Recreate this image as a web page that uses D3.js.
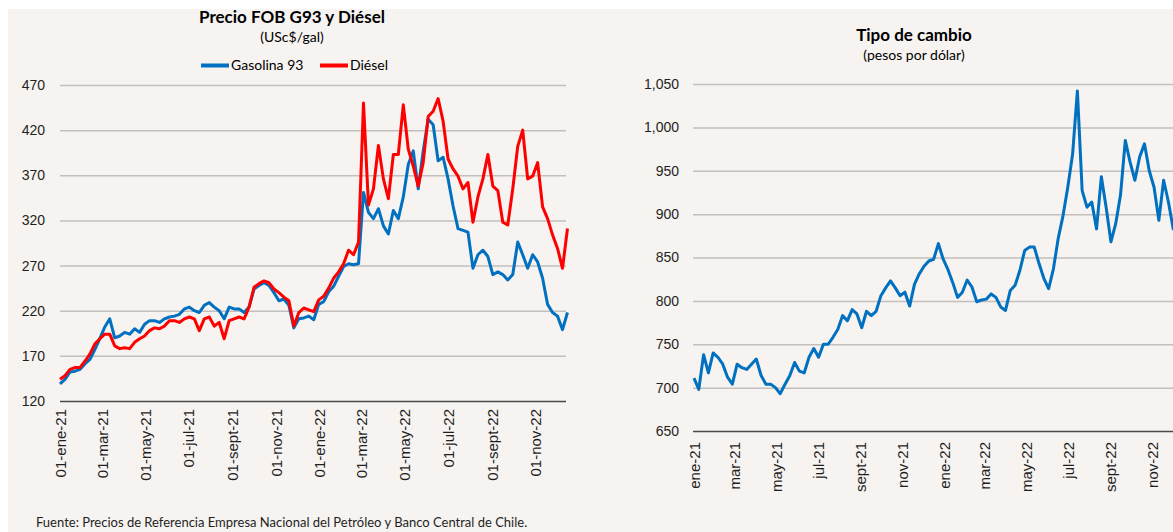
<!DOCTYPE html>
<html>
<head>
<meta charset="utf-8">
<title>Precio FOB G93 y Diésel / Tipo de cambio</title>
<script src="https://cdn.jsdelivr.net/npm/d3@7"></script>
<style>
  body { margin: 0; background: #fff; }
  svg { display: block; font-family: Lato, "Open Sans", sans-serif; }
  .tick text { fill: #1f1f1f; }
</style>
</head>
<body>
<script>
// datos semanales, semana 0 = 01-ene-2021
var inicio = new Date(2021, 0, 1);

var gasolina93 = [139,144,152,153,155,161,166,177,189,202,
  211,190,192,196,194,200,196,205,209,209,
  207,211,213,214,216,222,224,220,218,226,
  229,224,220,211,224,222,222,218,224,244,
  248,251,248,240,231,233,226,201,211,212,
  214,210,227,230,241,247,258,269,272,271,
  272,351,329,322,333,314,305,331,322,346,
  382,397,355,397,432,426,386,390,366,336,
  311,309,307,267,282,287,280,260,263,260,
  254,260,296,282,267,282,274,256,227,218,
  214,199,218];

var diesel = [144,148,155,157,157,164,172,183,189,194,
  194,181,178,179,178,185,189,192,198,201,
  200,203,209,209,207,211,213,211,198,211,
  213,203,207,189,209,211,213,211,224,246,
  250,253,251,244,240,235,231,203,218,223,
  221,219,232,236,245,256,263,272,287,282,
  296,450,337,355,403,366,344,393,393,448,
  399,380,358,384,435,441,455,430,388,377,
  369,355,362,318,346,366,393,358,353,318,
  315,355,402,420,366,369,384,335,322,304,
  289,267,311];

var tipoCambio = [711,698,738,717,740,735,727,712,704,727,
  723,721,727,733,714,704,704,700,693,704,
  714,729,719,717,735,745,735,750,750,758,
  767,783,777,790,785,769,788,783,788,806,
  815,823,815,806,810,794,819,831,840,846,
  848,866,848,836,821,804,810,824,816,799,
  801,802,808,804,793,789,812,818,835,858,
  862,862,843,826,814,837,872,898,931,969,
  1042,927,908,914,883,943,908,868,889,922,
  985,960,939,966,981,950,931,893,939,914,
  883,880];

var fechasTicks = ["2021-01-01","2021-03-01","2021-05-01","2021-07-01","2021-09-01","2021-11-01",
  "2022-01-01","2022-03-01","2022-05-01","2022-07-01","2022-09-01","2022-11-01"];
var etiquetasIzq = ["01-ene-21","01-mar-21","01-may-21","01-jul-21","01-sept-21","01-nov-21",
  "01-ene-22","01-mar-22","01-may-22","01-jul-22","01-sept-22","01-nov-22"];
var etiquetasDer = ["ene-21","mar-21","may-21","jul-21","sept-21","nov-21",
  "ene-22","mar-22","may-22","jul-22","sept-22","nov-22"];
var ticksPrecio = [120,170,220,270,320,370,420,470];
var ticksCambio = [650,700,750,800,850,900,950,1000,1050];

var W = 1173, H = 532;
var parseF = d3.timeParse("%Y-%m-%d");
var semana = function (i) { return d3.timeDay.offset(inicio, 7 * i); };

var svg = d3.select("body").append("svg")
    .attr("width", W)
    .attr("height", H);

svg.append("rect")
    .attr("x", 8).attr("y", 9)
    .attr("width", W - 8).attr("height", H - 9)
    .attr("fill", "#f6f3f0");

function panel(cfg) {
    var x = d3.scaleTime()
        .domain([parseF("2021-01-01"), parseF("2022-11-01")])
        .range([cfg.x0, cfg.xNov]);
    var y = d3.scaleLinear()
        .domain(cfg.yDom)
        .range([cfg.yBase, cfg.yTop]);

    // grilla + etiquetas eje y
    var gy = svg.append("g")
        .attr("transform", "translate(" + cfg.gridL + ",0)")
        .call(d3.axisLeft(y)
            .tickValues(cfg.yTicks)
            .tickSize(-(cfg.gridR - cfg.gridL))
            .tickPadding(cfg.pad)
            .tickFormat(cfg.fmt));
    gy.select(".domain").remove();
    gy.selectAll(".tick line")
        .attr("stroke", function (d) { return d === cfg.yDom[0] ? "#4a4a4a" : "#c2bfbc"; })
        .attr("stroke-width", function (d) { return d === cfg.yDom[0] ? 1.6 : 1.5; });
    gy.selectAll(".tick text")
        .attr("font-size", 14);

    // eje x con etiquetas verticales
    var gx = svg.append("g")
        .attr("transform", "translate(0," + cfg.yBase + ")")
        .call(d3.axisBottom(x)
            .tickValues(fechasTicks.map(parseF))
            .tickSize(0)
            .tickFormat(function (d, i) { return cfg.labels[i]; }));
    gx.select(".domain").remove();
    gx.selectAll(".tick text")
        .attr("font-size", 15)
        .attr("transform", "rotate(-90)")
        .attr("text-anchor", "end")
        .attr("x", cfg.lblGap)
        .attr("y", 0)
        .attr("dy", "0.35em");

    var line = d3.line()
        .x(function (d, i) { return x(semana(i)); })
        .y(function (d) { return y(d); });

    cfg.series.forEach(function (s) {
        svg.append("path")
            .datum(s.data)
            .attr("fill", "none")
            .attr("stroke", s.color)
            .attr("stroke-width", 3)
            .attr("stroke-linejoin", "round")
            .attr("d", line);
    });

    svg.append("text")
        .attr("x", cfg.cx).attr("y", cfg.tY)
        .attr("text-anchor", "middle")
        .attr("font-size", 17).attr("font-weight", "bold")
        .attr("fill", "#000")
        .text(cfg.title);
    svg.append("text")
        .attr("x", cfg.cx).attr("y", cfg.sY)
        .attr("text-anchor", "middle")
        .attr("font-size", 14)
        .attr("fill", "#000")
        .text(cfg.sub);
}

panel({
    x0: 60, xNov: 535.5, gridL: 60, gridR: 566,
    yDom: [120, 470], yBase: 401, yTop: 85, yTicks: ticksPrecio, pad: 15,
    fmt: d3.format("d"), labels: etiquetasIzq, lblGap: -8,
    series: [{ data: gasolina93, color: "#0070c0" }, { data: diesel, color: "#ff0000" }],
    cx: 292, tY: 23, sY: 42, title: "Precio FOB G93 y Diésel", sub: "(USc$/gal)"
});

panel({
    x0: 694, xNov: 1152, gridL: 693, gridR: W,
    yDom: [650, 1050], yBase: 431, yTop: 84, yTicks: ticksCambio, pad: 14,
    fmt: d3.format(","), labels: etiquetasDer, lblGap: -11,
    series: [{ data: tipoCambio, color: "#0070c0" }],
    cx: 914, tY: 41, sY: 60, title: "Tipo de cambio", sub: "(pesos por dólar)"
});

// leyenda
var leyenda = [
    { name: "Gasolina 93", color: "#0070c0", x: 201 },
    { name: "Diésel", color: "#ff0000", x: 320 }
];
var lg = svg.selectAll(".leg").data(leyenda).enter().append("g")
    .attr("transform", function (d) { return "translate(" + d.x + ",65.5)"; });
lg.append("line")
    .attr("x1", 0).attr("x2", 28)
    .attr("stroke", function (d) { return d.color; })
    .attr("stroke-width", 4);
lg.append("text")
    .attr("x", 30).attr("y", 0).attr("dy", "0.35em")
    .attr("font-size", 14).attr("fill", "#000")
    .text(function (d) { return d.name; });

svg.append("text")
    .attr("x", 36).attr("y", 527)
    .attr("font-size", 13).attr("fill", "#1f1f1f")
    .text("Fuente: Precios de Referencia Empresa Nacional del Petróleo y Banco Central de Chile.");
</script>
</body>
</html>
